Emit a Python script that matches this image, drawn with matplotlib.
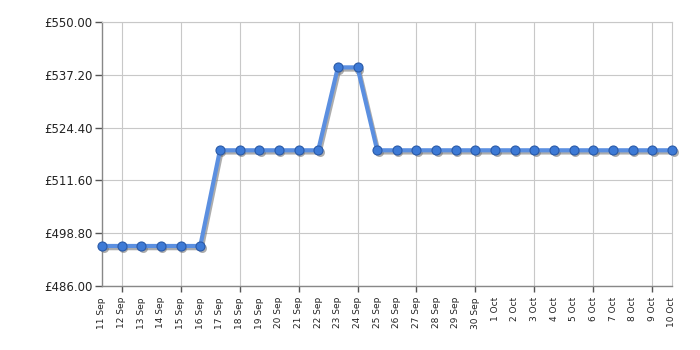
import matplotlib
matplotlib.use("Agg")
import matplotlib.pyplot as plt
import matplotlib.transforms as mtransforms
from matplotlib.ticker import FixedLocator

dates = ["11 Sep", "12 Sep", "13 Sep", "14 Sep", "15 Sep", "16 Sep", "17 Sep", "18 Sep",
         "19 Sep", "20 Sep", "21 Sep", "22 Sep", "23 Sep", "24 Sep", "25 Sep", "26 Sep",
         "27 Sep", "28 Sep", "29 Sep", "30 Sep", "1 Oct", "2 Oct", "3 Oct", "4 Oct",
         "5 Oct", "6 Oct", "7 Oct", "8 Oct", "9 Oct", "10 Oct"]
prices = [495.7, 495.7, 495.7, 495.7, 495.7, 495.7, 518.9, 518.9, 518.9, 518.9, 518.9, 518.9,
          539.0, 539.0, 518.9, 518.9, 518.9, 518.9, 518.9, 518.9, 518.9, 518.9, 518.9, 518.9,
          518.9, 518.9, 518.9, 518.9, 518.9, 518.9]
yticks = [486.0, 498.8, 511.6, 524.4, 537.2, 550.0]

fig = plt.figure(figsize=(7, 3.5), dpi=100)
ax = fig.add_axes([102/700, 1-286/350, 570/700, 264/350])

x = list(range(len(dates)))
shadow_tr = mtransforms.offset_copy(ax.transData, fig=fig, x=1.5, y=-2.2, units="dots")
ax.plot(x, prices, color="#777777", alpha=0.6, lw=3, zorder=2, transform=shadow_tr,
        solid_joinstyle="round", marker="o", ms=6.5, mec="none", clip_on=False)
ax.plot(x, prices, color="#5b8fe0", lw=3, zorder=3, solid_joinstyle="round", clip_on=False)
ax.plot(x, prices, ls="none", marker="o", ms=6.5, mfc="#3d7ad6", mec="#2a5aa8", mew=0.8,
        zorder=4, clip_on=False)

ax.set_xlim(0, len(dates)-1)
ax.set_ylim(yticks[0], yticks[-1])
ax.set_yticks(yticks)
ax.set_yticklabels([f"£{v:.2f}" for v in yticks], fontsize=8.5, color="#222222")
ax.set_xticks(x)
ax.set_xticklabels(dates, rotation=90, fontsize=6.5, color="#222222")
ax.tick_params(axis="x", which="major", length=0, pad=8)
ax.tick_params(axis="y", length=5, width=1, color="#555555", pad=2)

major = x[1::3]
ax.xaxis.remove_overlapping_locs = False
ax.xaxis.set_minor_locator(FixedLocator(major))
ax.tick_params(axis="x", which="minor", length=4, width=1, color="#555555")

ax.grid(axis="y", color="#c8c8c8", lw=0.8)
for m in major:
    ax.axvline(m, color="#c8c8c8", lw=0.8, zorder=1)

for s in ["top", "right"]:
    ax.spines[s].set_color("#c8c8c8")
    ax.spines[s].set_linewidth(0.8)
for s in ["left", "bottom"]:
    ax.spines[s].set_color("#888888")
    ax.spines[s].set_linewidth(1)
ax.set_axisbelow(True)

fig.savefig("out.png", dpi=100)
